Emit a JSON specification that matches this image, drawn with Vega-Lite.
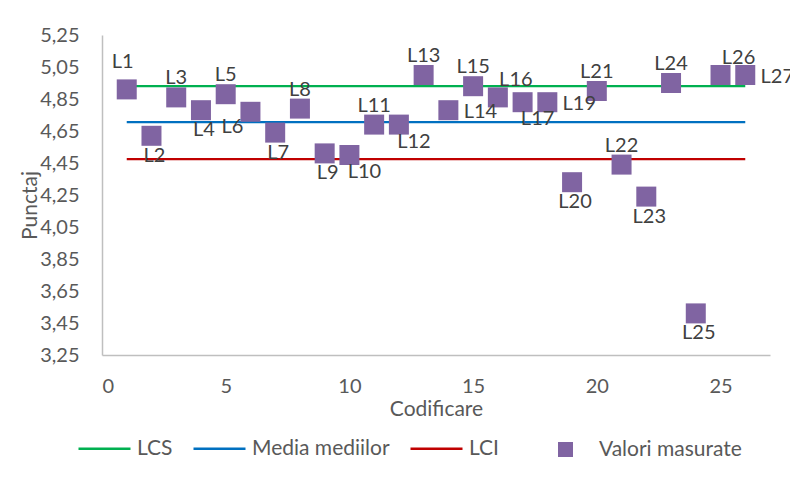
{
  "$schema": "https://vega.github.io/schema/vega-lite/v6.json",
  "width": 668,
  "height": 320,
  "autosize": {"type": "none"},
  "padding": {"left": 102, "top": 35, "right": 20, "bottom": 122},
  "background": "white",
  "config": {
    "view": {"stroke": null},
    "font": "Lato",
    "axis": {
      "grid": false,
      "ticks": false,
      "domainColor": "#BFBFBF",
      "domainWidth": 1.5,
      "labelColor": "#595959",
      "titleColor": "#595959",
      "labelFont": "Lato",
      "titleFont": "Lato",
      "titleFontWeight": "normal"
    },
    "legend": {"labelFont": "Lato", "labelColor": "#595959"}
  },
  "datasets": {
    "points": [
      {"cod": 1, "punctaj": 4.91, "label": "L1"},
      {"cod": 2, "punctaj": 4.62, "label": "L2"},
      {"cod": 3, "punctaj": 4.86, "label": "L3"},
      {"cod": 4, "punctaj": 4.78, "label": "L4"},
      {"cod": 5, "punctaj": 4.88, "label": "L5"},
      {"cod": 6, "punctaj": 4.77, "label": "L6"},
      {"cod": 7, "punctaj": 4.64, "label": "L7"},
      {"cod": 8, "punctaj": 4.79, "label": "L8"},
      {"cod": 9, "punctaj": 4.51, "label": "L9"},
      {"cod": 10, "punctaj": 4.50, "label": "L10"},
      {"cod": 11, "punctaj": 4.69, "label": "L11"},
      {"cod": 12, "punctaj": 4.69, "label": "L12"},
      {"cod": 13, "punctaj": 5.00, "label": "L13"},
      {"cod": 14, "punctaj": 4.78, "label": "L14"},
      {"cod": 15, "punctaj": 4.93, "label": "L15"},
      {"cod": 16, "punctaj": 4.86, "label": "L16"},
      {"cod": 17, "punctaj": 4.83, "label": "L17"},
      {"cod": 18, "punctaj": 4.83, "label": "L19"},
      {"cod": 19, "punctaj": 4.33, "label": "L20"},
      {"cod": 20, "punctaj": 4.90, "label": "L21"},
      {"cod": 21, "punctaj": 4.44, "label": "L22"},
      {"cod": 22, "punctaj": 4.24, "label": "L23"},
      {"cod": 23, "punctaj": 4.95, "label": "L24"},
      {"cod": 24, "punctaj": 3.51, "label": "L25"},
      {"cod": 25, "punctaj": 5.00, "label": "L26"},
      {"cod": 26, "punctaj": 5.00, "label": "L27"}
    ],
    "lines": [
      {"series": "LCS", "cod": 1, "punctaj": 4.93},
      {"series": "LCS", "cod": 26, "punctaj": 4.93},
      {"series": "Media mediilor", "cod": 1, "punctaj": 4.705},
      {"series": "Media mediilor", "cod": 26, "punctaj": 4.705},
      {"series": "LCI", "cod": 1, "punctaj": 4.475},
      {"series": "LCI", "cod": 26, "punctaj": 4.475}
    ]
  },
  "encoding": {
    "x": {
      "field": "cod",
      "type": "quantitative",
      "scale": {"domain": [0, 27], "nice": false},
      "axis": {
        "values": [0, 5, 10, 15, 20, 25],
        "labelPadding": 21,
        "labelFontSize": 20,
        "title": "Codificare",
        "titleFontSize": 21,
        "titleY": 54,
        "titleBaseline": "middle"
      }
    },
    "y": {
      "field": "punctaj",
      "type": "quantitative",
      "scale": {"domain": [3.25, 5.25], "nice": false, "zero": false},
      "axis": {
        "values": [3.25, 3.45, 3.65, 3.85, 4.05, 4.25, 4.45, 4.65, 4.85, 5.05, 5.25],
        "labelExpr": "replace(format(datum.value, '.2f'), '.', ',')",
        "labelPadding": 23,
        "labelFontSize": 20,
        "title": "Punctaj",
        "titleFontSize": 21,
        "titleAngle": -90,
        "titleX": -72,
        "titleY": 170,
        "titleAlign": "center",
        "titleBaseline": "middle"
      }
    }
  },
  "layer": [
    {
      "data": {"name": "lines"},
      "mark": {"type": "line", "strokeWidth": 2.25},
      "encoding": {
        "color": {
          "field": "series",
          "type": "nominal",
          "scale": {"domain": ["LCS", "Media mediilor", "LCI"], "range": ["#00B050", "#0070C0", "#C00000"]},
          "legend": {
            "orient": "none",
            "legendX": -25,
            "legendY": 386,
            "direction": "horizontal",
            "title": null,
            "symbolType": "stroke",
            "symbolSize": 2704,
            "symbolStrokeWidth": 2.5,
            "labelFontSize": 21,
            "labelOffset": 5,
            "labelLimit": 300,
            "columnPadding": 15
          }
        }
      }
    },
    {
      "data": {"name": "points"},
      "mark": {"type": "point", "shape": "square", "filled": true, "size": 400, "opacity": 1},
      "encoding": {
        "fill": {
          "datum": "Valori masurate",
          "type": "nominal",
          "scale": {"range": ["#8064A2"]},
          "legend": {
            "orient": "none",
            "legendX": 453,
            "legendY": 404,
            "title": null,
            "symbolType": "square",
            "symbolSize": 225,
            "symbolOpacity": 1,
            "labelFontSize": 21,
            "labelOffset": 23,
            "labelLimit": 300
          }
        }
      }
    },
    {
      "data": {"name": "points"},
      "transform": [{"filter": {"field": "label", "oneOf": ["L3", "L5", "L8", "L11", "L13", "L15", "L21", "L22", "L24"]}}],
      "mark": {"type": "text", "dy": -19, "fontSize": 20, "color": "#404040", "baseline": "middle"},
      "encoding": {"text": {"field": "label"}}
    },
    {
      "data": {"name": "points"},
      "transform": [{"filter": {"field": "label", "oneOf": ["L1"]}}],
      "mark": {"type": "text", "dx": -4, "dy": -27, "fontSize": 20, "color": "#404040", "baseline": "middle"},
      "encoding": {"text": {"field": "label"}}
    },
    {
      "data": {"name": "points"},
      "transform": [{"filter": {"field": "label", "oneOf": ["L16", "L26"]}}],
      "mark": {"type": "text", "dx": 18, "dy": -17, "fontSize": 20, "color": "#404040", "baseline": "middle"},
      "encoding": {"text": {"field": "label"}}
    },
    {
      "data": {"name": "points"},
      "transform": [{"filter": {"field": "label", "oneOf": ["L2", "L4", "L7", "L9", "L20", "L23", "L25"]}}],
      "mark": {"type": "text", "dx": 3, "dy": 20, "fontSize": 20, "color": "#404040", "baseline": "middle"},
      "encoding": {"text": {"field": "label"}}
    },
    {
      "data": {"name": "points"},
      "transform": [{"filter": {"field": "label", "oneOf": ["L10", "L12", "L17"]}}],
      "mark": {"type": "text", "dx": 15, "dy": 17, "fontSize": 20, "color": "#404040", "baseline": "middle"},
      "encoding": {"text": {"field": "label"}}
    },
    {
      "data": {"name": "points"},
      "transform": [{"filter": {"field": "label", "oneOf": ["L6"]}}],
      "mark": {"type": "text", "dx": -18, "dy": 15, "fontSize": 20, "color": "#404040", "baseline": "middle"},
      "encoding": {"text": {"field": "label"}}
    },
    {
      "data": {"name": "points"},
      "transform": [{"filter": {"field": "label", "oneOf": ["L14", "L19", "L27"]}}],
      "mark": {"type": "text", "dx": 32, "dy": 2, "fontSize": 20, "color": "#404040", "baseline": "middle"},
      "encoding": {"text": {"field": "label"}}
    }
  ]
}
